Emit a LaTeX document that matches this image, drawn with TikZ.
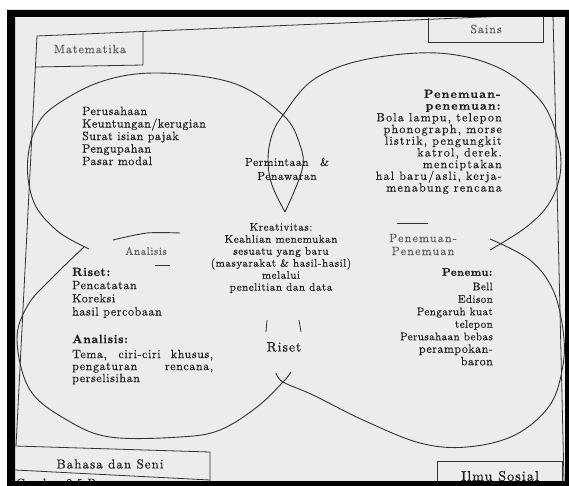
\documentclass[tikz,border=0pt]{standalone}
\usepackage{fontspec}
\setmainfont{lmroman10-regular.otf}[BoldFont=lmroman10-bold.otf, ItalicFont=lmroman10-italic.otf, LetterSpace=5, UprightFeatures={FakeBold=0.4}, BoldFeatures={FakeBold=0.8}]
\newcommand\lsx[1]{\addfontfeatures{LetterSpace=#1}}
\definecolor{paper}{RGB}{236,236,234}
\definecolor{ink}{RGB}{32,32,32}
\definecolor{lightink}{RGB}{95,95,95}
\definecolor{lineink}{RGB}{50,50,50}
\begin{document}
\begin{tikzpicture}[x=1pt,y=-1pt,
  ln/.style={draw=lineink, line width=0.8pt},
  oval/.style={draw=lineink, line width=0.9pt},
  txt/.style={inner sep=0pt, text=ink, font=\fontsize{12}{12.5}\selectfont}]
\useasboundingbox (0,0) rectangle (569,486);
\fill[white] (0,0) rectangle (569,486);
\fill[paper] (15,17) rectangle (565,481);

% frame and boxes
\draw[ln] (37,36) -- (554,14);
\draw[ln] (37,36) -- (16,446);
\draw[ln] (553,15) -- (564,481);
\draw[ln] (143,32) -- (143,65) -- (36,67);
\draw[ln] (428,18) -- (428,42) -- (543,42) -- (543,15);
\draw[ln] (15,446) -- (210,452) -- (210,482);
\draw[ln] (15,470) -- (210,480);
\draw[ln] (437,482) -- (437,461) -- (562,461) -- (562,482);

% ovals
\draw[oval] plot[smooth, tension=0.6] coordinates {(89,249) (60,233) (38,210) (29,185) (28,157) (35,130) (52,108) (100,82) (157,73) (233,83) (283,115) (300,145) (302,170) (285,212)};
\draw[oval] plot[smooth, tension=0.6] coordinates {(285,212) (272,185) (268,160) (272,135) (283,115) (313,80) (363,60) (437,53) (497,67) (540,100) (558,140) (560,175) (548,205) (525,228) (490,250)};
\draw[oval] plot[smooth, tension=0.6] coordinates {(490,239) (530,260) (553,290) (563,330) (563,365) (550,405) (515,435) (467,447) (420,443) (363,420) (313,395) (283,382) (276,373)};
\draw[oval] plot[smooth, tension=0.6] coordinates {(84,247) (53,277) (28,305) (17,340) (30,390) (67,420) (110,437) (180,437) (220,430) (257,407) (283,382) (291,372)};
\draw[oval] plot[smooth] coordinates {(113,240) (147,233) (180,233)};
\draw[ln] (155,265) -- (170,265);
\draw[ln] (397,223) -- (428,223);
\draw[ln] (267,320) -- (266,332);
\draw[ln] (299,320) -- (301,332);

% texts
\node[txt, anchor=north west, align=left, font=\fontsize{12}{12.5}\selectfont\lsx{4}] (keu) at (82,106.5) {Perusahaan\\Keuntungan/kerugian\\Surat isian pajak\\Pengupahan\\Pasar modal};
\node[txt, anchor=north east, align=right, font=\fontsize{12}{11.7}\selectfont\lsx{10}] (temu) at (502,89.5) {\textbf{Penemuan-}\\\textbf{penemuan:}\\Bola lampu, telepon\\phonograph, morse\\listrik, pengungkit\\katrol, derek.\\menciptakan\\hal baru/asli, kerja-\\menabung rencana};
\node[txt, anchor=north east, align=right, font=\fontsize{11}{12.5}\selectfont\lsx{4}] (penemu) at (493,268) {\textbf{Penemu:}\\[2pt]Bell\\Edison\\Pengaruh kuat\\telepon\\Perusahaan bebas\\{\fontsize{12}{12.5}\selectfont perampokan-}\\{\fontsize{12}{12.5}\selectfont baron}};
\node[txt, anchor=north west, align=left, font=\fontsize{12}{13.2}\selectfont] (riset) at (72,267.5) {\textbf{Riset:}\\Pencatatan\\Koreksi\\hasil percobaan};
\node[txt, anchor=north west, align=left, font=\fontsize{12}{12}\selectfont] (anal) at (72,334.5) {\textbf{Analisis:}\\[3pt]\makebox[141pt][s]{Tema, ciri-ciri khusus,}\\\makebox[141pt][s]{pengaturan\hfill rencana,}\\perselisihan};
\node[txt, anchor=north, align=center, font=\fontsize{11}{12}\selectfont] (kreat) at (281,223) {Kreativitas:\\Keahlian menemukan\\sesuatu yang baru\\(masyarakat \& hasil-hasil)\\melalui\\penelitian dan data};
\node[txt, anchor=north, align=center, font=\fontsize{11.5}{14}\selectfont] (perm) at (287,157.5) {Permintaan\quad\&\\Penawaran};
\node[txt, font=\fontsize{13.5}{14}\selectfont\lsx{8}] (risetc) at (284,347) {Riset};
\node[txt, text=lightink, font=\fontsize{11}{12}\selectfont] (analisis) at (146,251) {Analisis};
\node[txt, text=lightink, align=center, font=\fontsize{12}{13}\selectfont\lsx{10}] (penpen) at (423,244.5) {Penemuan-\\Penemuan};
\node[txt, text=lightink, font=\fontsize{12}{12}\selectfont\lsx{8}] (mat) at (90,49) {Matematika};
\node[txt, text=lightink, font=\fontsize{12}{12}\selectfont\lsx{8}] (sains) at (486,29) {Sains};
\node[txt, font=\fontsize{13}{14}\selectfont\lsx{8}] (bahasa) at (110,464) {Bahasa dan Seni};
\node[txt, font=\fontsize{14}{15}\selectfont\lsx{8}] (ilmu) at (500,476) {Ilmu Sosial};
\node[txt, anchor=base west, font=\fontsize{12}{13}\selectfont] (cap) at (16,487) {Gambar 2.5 P};

% photo border
\fill[black, even odd rule] (7,10) rectangle (569,486) (15,17) rectangle (565,481);
\end{tikzpicture}
\end{document}
